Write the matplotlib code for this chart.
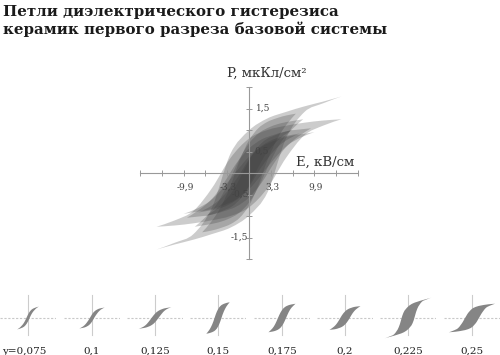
import numpy as np
import matplotlib
matplotlib.use("Agg")
import matplotlib.pyplot as plt
from matplotlib.path import Path
from matplotlib.patches import PathPatch

plt.rcParams['font.family'] = ['DejaVu Serif']

# upper branch of each hysteresis loop, E (кВ/см) and P (мкКл/см2)
# lower branch is the point reflection of the upper one
loop_labels = ['y=0,075', '0,1', '0,125', '0,15', '0,175', '0,2', '0,225', '0,25']

E_075 = [-6.6, -5.3, -4.0, -2.6, -1.3, 0, 1.3, 2.6, 4.0, 5.3, 6.6]
P_075 = [-1.0, -0.88, -0.7, -0.45, -0.1, 0.3, 0.6, 0.78, 0.88, 0.95, 1.0]
E_100 = [-7.7, -6.2, -4.6, -3.1, -1.5, 0, 1.5, 3.1, 4.6, 6.2, 7.7]
P_100 = [-0.92, -0.81, -0.64, -0.39, -0.05, 0.32, 0.58, 0.74, 0.83, 0.88, 0.92]
E_125 = [-9.9, -7.9, -5.9, -4.0, -2.0, 0, 2.0, 4.0, 5.9, 7.9, 9.9]
P_125 = [-0.95, -0.83, -0.65, -0.36, 0.02, 0.38, 0.62, 0.76, 0.85, 0.9, 0.95]
E_150 = [-7.1, -5.7, -4.3, -2.8, -1.4, 0, 1.4, 2.8, 4.3, 5.7, 7.1]
P_150 = [-1.38, -1.13, -0.8, -0.3, 0.3, 0.76, 1.04, 1.19, 1.28, 1.34, 1.38]
E_175 = [-8.2, -6.6, -4.9, -3.3, -1.6, 0, 1.6, 3.3, 4.9, 6.6, 8.2]
P_175 = [-1.25, -1.03, -0.73, -0.28, 0.28, 0.69, 0.94, 1.08, 1.16, 1.21, 1.25]
E_200 = [-9.4, -7.5, -5.6, -3.8, -1.9, 0, 1.9, 3.8, 5.6, 7.5, 9.4]
P_200 = [-1.04, -0.85, -0.6, -0.23, 0.23, 0.57, 0.78, 0.89, 0.97, 1.01, 1.04]
E_225 = [-14.0, -11.2, -8.4, -5.6, -2.8, 0, 2.8, 5.6, 8.4, 11.2, 14.0]
P_225 = [-1.78, -1.62, -1.42, -0.8, 0.45, 0.99, 1.27, 1.42, 1.55, 1.66, 1.78]
E_250 = [-14.0, -11.2, -8.4, -5.6, -2.8, 0, 2.8, 5.6, 8.4, 11.2, 14.0]
P_250 = [-1.25, -1.1, -0.88, -0.35, 0.35, 0.8, 1.0, 1.1, 1.17, 1.22, 1.25]

loops = [(E_075, P_075), (E_100, P_100), (E_125, P_125), (E_150, P_150),
         (E_175, P_175), (E_200, P_200), (E_225, P_225), (E_250, P_250)]

x_ticks_lab = ['-9,9', '-3,3', '3,3', '9,9']
x_ticks_val = [-9.9, -3.3, 3.3, 9.9]


def branch(pts, verts, codes, start):
    # smooth cubic curve passing through every point of a branch
    if start:
        verts.append(pts[0]); codes.append(Path.MOVETO)
    n = len(pts)
    for i in range(n - 1):
        p0 = pts[i - 1] if i > 0 else pts[i]
        p3 = pts[i + 2] if i + 2 < n else pts[i + 1]
        c1 = pts[i] + (pts[i + 1] - p0) / 6
        c2 = pts[i + 1] - (p3 - pts[i]) / 6
        verts += [c1, c2, pts[i + 1]]
        codes += [Path.CURVE4] * 3


def loop_patch(E, P, **kw):
    up = np.column_stack([E, P]).astype(float)
    low = -up  # reflected: goes from (Emax,Pmax) back to (-Emax,-Pmax)
    verts, codes = [], []
    branch(up, verts, codes, True)
    branch(low, verts, codes, False)
    verts.append(up[0]); codes.append(Path.CLOSEPOLY)
    return PathPatch(Path(verts, codes), **kw)


fig = plt.figure(figsize=(5, 3.55), dpi=100)

fig.text(0.006, 0.985, 'Петли диэлектрического гистерезиса\nкерамик первого разреза базовой системы',
         fontsize=10.8, fontweight='bold', color='#1a1a1a', va='top', ha='left', linespacing=1.2)

# main chart
ax = fig.add_axes([140/500, 96/355, 218/500, 172/355])
ax.set_xlim(-16.5, 16.5)
ax.set_ylim(-2, 2)
for E, P in loops:
    ax.add_patch(loop_patch(E, P, facecolor='#3c3c3c', alpha=0.26, lw=0, zorder=1))

for s in ['top', 'right']:
    ax.spines[s].set_visible(False)
for s in ['left', 'bottom']:
    ax.spines[s].set_position(('data', 0))
    ax.spines[s].set_color('#999999')
    ax.spines[s].set_linewidth(0.8)
    ax.spines[s].set_zorder(3)
ax.set_xticks(np.arange(-5, 6) * 3.3)
ax.set_yticks(np.arange(-4, 5) * 0.5)
ax.set_xticklabels([])
ax.set_yticklabels([])
ax.tick_params(direction='inout', length=5, width=0.7, color='#999999')
ax.patch.set_alpha(0)

for v, t in zip(x_ticks_val, x_ticks_lab):
    ax.annotate(t, (v, 0), xytext=(1, -7), textcoords='offset points',
                ha='center', va='top', fontsize=6.5, color='#444444')
ax.annotate('1,5', (0, 1.5), xytext=(5, 0), textcoords='offset points',
            ha='left', va='center', fontsize=6.5, color='#444444')
ax.annotate('0,5', (0, 0.5), xytext=(4, 0), textcoords='offset points',
            ha='left', va='center', fontsize=6.5, color='#444444')
ax.annotate('-0,5', (0, -0.5), xytext=(0, 0), textcoords='offset points',
            ha='right', va='center', fontsize=6.5, color='#444444')
ax.annotate('-1,5', (0, -1.5), xytext=(-1, 0), textcoords='offset points',
            ha='right', va='center', fontsize=6.5, color='#444444')

fig.text(267/500, 1 - 73/355, 'P, мкКл/см²', fontsize=9.5, ha='center', va='center', color='#333333')
fig.text(354/500, 1 - 162/355, 'E, кВ/см', fontsize=9.5, ha='right', va='center', color='#333333')

# small panels
centers = [28, 92, 155, 218, 282, 345, 408, 472]
for (E, P), cx, lab in zip(loops, centers, loop_labels):
    sa = fig.add_axes([(cx - 28)/500, (355 - 348)/355, 56/500, 60/355])
    sa.set_xlim(-17, 17)
    sa.set_ylim(-2.63, 2.63)
    sa.axis('off')
    sa.plot([-17, 17], [0, 0], color='#c8c8c8', lw=0.8, ls=(0, (2, 1.5)), zorder=1)
    sa.plot([0, 0], [-1.5, 2.0], color='#cccccc', lw=0.8, zorder=1)
    sa.add_patch(loop_patch(E, P, facecolor='#858585', lw=0, zorder=2, clip_on=False))
    tx = cx - 4 if lab.startswith('y') else cx
    fig.text(tx/500, 1 - 351/355, lab, fontsize=7.5, ha='center', va='center', color='#222222')

fig.savefig('out.png', dpi=100)
